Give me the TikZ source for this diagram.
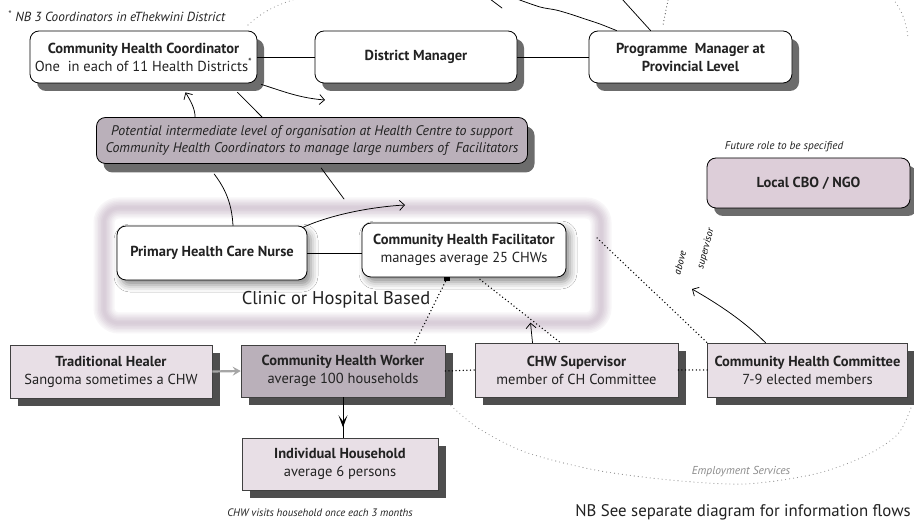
\documentclass[tikz,border=0pt]{standalone}
\usepackage{fontspec}
\setmainfont{PT Sans}
\usetikzlibrary{shadows,shadows.blur,arrows.meta,calc}

\definecolor{shade}{HTML}{6C6C6C}
\definecolor{deepshade}{HTML}{4E4E4E}
\definecolor{mauve}{HTML}{BAB0BA}
\definecolor{blush}{HTML}{E8DFE6}
\definecolor{cbofill}{HTML}{DDCED9}
\definecolor{bandbase}{HTML}{9C7F9C}
\definecolor{ink}{HTML}{222222}

\tikzset{
  boxfont/.style={font=\fontsize{14.5}{18}\selectfont, text=ink},
  roundbox/.style={boxfont, draw=black, line width=0.8pt, fill=white,
    rounded corners=9pt, align=center, inner sep=0pt,
    drop shadow={shadow xshift=7pt, shadow yshift=-8pt, fill=shade, opacity=1}},
  softbox/.style={boxfont, draw=black, line width=0.8pt, fill=white,
    rounded corners=9pt, align=center, inner sep=0pt,
    blur shadow={shadow xshift=4pt, shadow yshift=-5pt, shadow blur radius=7pt, shadow opacity=45}},
  squarebox/.style={boxfont, draw=black!75, line width=0.6pt, fill=blush,
    align=center, inner sep=0pt,
    drop shadow={shadow xshift=8pt, shadow yshift=-8pt, fill=deepshade, opacity=1}},
  link/.style={line width=0.9pt, black},
  dotlink/.style={line width=1.5pt, black, line cap=round, dash pattern=on 0pt off 3.6pt},
  arcdots/.style={line width=1.1pt, black!45, line cap=round, dash pattern=on 0pt off 4pt},
  hand/.style={line width=0.75pt, black, line cap=round, line join=round},
  handarrow/.style={hand, -{Straight Barb[length=5pt, width=10pt, line width=0.75pt]}},
  handtext/.style={rotate=75, inner sep=0pt, font=\fontsize{10}{11}\itshape\selectfont},
  notefont/.style={font=\fontsize{13.2}{15}\itshape\selectfont, text=ink},
  smallnote/.style={font=\fontsize{11.2}{13}\itshape\selectfont, text=ink},
}

\begin{document}
\begin{tikzpicture}[x=1pt, y=-1pt]
\useasboundingbox (0,0) rectangle (914,526);
\fill[white] (0,0) rectangle (914,526);

% soft frame of the clinic / hospital group
\foreach \w/\p in {21/7, 18/12, 15/18, 12/24, 9/29, 6/34, 3/38}
  \draw[line width=\w pt, bandbase!\p!white, rounded corners=15pt] (104,208) rectangle (601,323);

% large dotted boundary (employment services)
\draw[arcdots] (248,25) .. controls (262,12) and (276,5) .. (296,-1);
\draw[arcdots] (893,-1) .. controls (902,10) and (906,22) .. (908,37);
\draw[arcdots] plot[smooth] coordinates {(448,403) (478,428) (525,452) (595,470) (670,480) (745,484) (815,474) (865,456) (898,434) (912,405)};

% top row
\node[roundbox, minimum width=227pt, minimum height=52pt] (chc) at (143.5,57)
  {{\bfseries Community Health Coordinator}\\One\ \ in each of 11 Health Districts\textsuperscript{*}};
\node[roundbox, minimum width=202pt, minimum height=52pt] (dm) at (416,57)
  {\bfseries District Manager};
\node[roundbox, minimum width=203pt, minimum height=52pt] (pm) at (690.5,57)
  {\bfseries Programme\ \ Manager at\\\bfseries Provincial Level};
\node[notefont, anchor=west, inner sep=0pt] (nbnote) at (8,16)
  {\textsuperscript{*}\ NB 3 Coordinators in eThekwini District};

% intermediate level
\node[boxfont, draw=black, line width=0.8pt, fill=mauve, rounded corners=9pt,
  align=center, inner sep=0pt, minimum width=431pt, minimum height=46pt,
  font=\fontsize{13.9}{17}\itshape\selectfont,
  drop shadow={shadow xshift=7pt, shadow yshift=-9pt, fill=shade, opacity=1}] (inter) at (312,140.5)
  {Potential intermediate level of organisation at Health Centre to support\\
   Community Health Coordinators to manage large numbers of\ \ Facilitators};

% clinic / hospital group
\node[softbox, minimum width=190pt, minimum height=54pt] (phcn) at (212,253)
  {\bfseries Primary Health Care Nurse};
\node[softbox, minimum width=204pt, minimum height=54pt] (chf) at (464,250)
  {{\bfseries Community Health Facilitator}\\manages average 25 CHWs};
\node[font=\fontsize{18.5}{21}\selectfont, text=ink] (clinic) at (336,300)
  {Clinic or Hospital Based};

% local CBO / NGO
\node[roundbox, fill=cbofill, minimum width=203pt, minimum height=50pt] (cbo) at (808.5,183)
  {\bfseries Local CBO / NGO};
\node[smallnote] (future) at (784,147) {Future role to be specified};

% community level
\node[squarebox, minimum width=202pt, minimum height=53pt] (th) at (111,371.5)
  {{\bfseries Traditional Healer}\\Sangoma sometimes a CHW};
\node[squarebox, fill=mauve, minimum width=204pt, minimum height=52pt] (chw) at (343,371)
  {{\bfseries Community Health Worker}\\average 100 households};
\node[squarebox, minimum width=203pt, minimum height=54pt] (chws) at (576.5,370)
  {{\bfseries CHW Supervisor}\\member of CH Committee};
\node[squarebox, minimum width=200pt, minimum height=54pt] (chcom) at (807.5,370)
  {{\bfseries Community Health Committee}\\7-9 elected members};
\node[squarebox, minimum width=196pt, minimum height=52pt] (ih) at (340,464)
  {{\bfseries Individual Household}\\average 6 persons};

% captions
\node[smallnote, font=\fontsize{10.8}{12}\itshape\selectfont] (visits) at (320,513)
  {CHW visits household once each 3 months};
\node[font=\fontsize{16.8}{19}\selectfont, text=ink] (flows) at (743,512)
  {NB See separate diagram for information flows};
\node[font=\fontsize{11.5}{13}\itshape\selectfont, text=black!45] (emp) at (741,472)
  {Employment Services};

% reporting lines
\draw[link] (chc.east) -- (dm.west);
\draw[link] (dm.east) -- (pm.west);
\draw[link] (phcn.east) -- (phcn.east -| chf.west);
\draw[line width=2.2pt, black!35, -{Stealth[length=8pt, width=9pt, inset=3pt]}] (th.east) -- (chw.west);
\draw[dotlink] (chw.east) -- (chws.west);
\draw[dotlink] (chws.east) -- (chcom.west);
\draw[line width=1pt] (chw.south) -- (chw.south |- ih.north);
\draw[line width=1pt, -{Stealth[length=12pt, width=9pt, inset=6pt]}] (chw.south) -- ++(0,30);

% dotted links from the facilitator
\coordinate (chfdot) at ($(chf.south)+(-17,1)$);
\fill (chfdot) ++(-3,-1.5) rectangle ++(6,4);
\draw[dotlink] (chfdot) -- ($(chw.north)+(71,0)$);
\draw[dotlink] ($(chf.south)+(16,2)$) -- ($(chws.north)+(-16,0)$);
\coordinate (bandright) at (597,238);
\draw[dotlink] (bandright) -- (chcom.north west);

% handwritten additions
\coordinate (h1end) at (325,100);
\draw[handarrow] ($(chc.south east)+(4,1)$) .. controls (285,92) and (300,98) .. (h1end);
\draw[handarrow] ($(inter.north west)+(99,0)$) .. controls (195,108) and (190,100) .. ($(chc.south)+(42,9)$);
\draw[hand] ($(chc.south)+(94,9)$) -- ($(inter.north west)+(166,0)$);
\draw[hand] ($(inter.south west)+(118,10)$) .. controls (228,192) and (232,208) .. ($(phcn.north)+(21,0)$);
\coordinate (bandtop) at (344,199);
\draw[hand] ($(inter.south west)+(225,4)$) -- (bandtop);
\coordinate (h6end) at (405,205);
\draw[handarrow] ($(phcn.north east)+(-5,2)$) .. controls (330,215) and (370,207) .. (h6end);
\draw[handarrow] ($(chws.north)+(-44,0)$) -- ++(-2,-20);
\coordinate (h8end) at (692,289);
\draw[handarrow] ($(chcom.north)+(-42,0)$) .. controls (745,322) and (720,305) .. (h8end);
\node[handtext] (above) at (680,263) {above};
\node[handtext] (supv) at (706,249) {supervisor};

% lines running in from above
\draw[hand] (490,-1) -- (502,8);
\draw[hand] plot[smooth] coordinates {(517,-1) (540,7) (556,10) (570,14) (585,19) (600,24) ($(pm.north west)+(28,0)$)};
\draw[hand] (622,-1) -- ($(pm.north west)+(62,0)$);
\draw[line width=1.1pt, black!70, line cap=round, dash pattern=on 0pt off 3.5pt] (668,0) -- (663,25);
\end{tikzpicture}
\end{document}
